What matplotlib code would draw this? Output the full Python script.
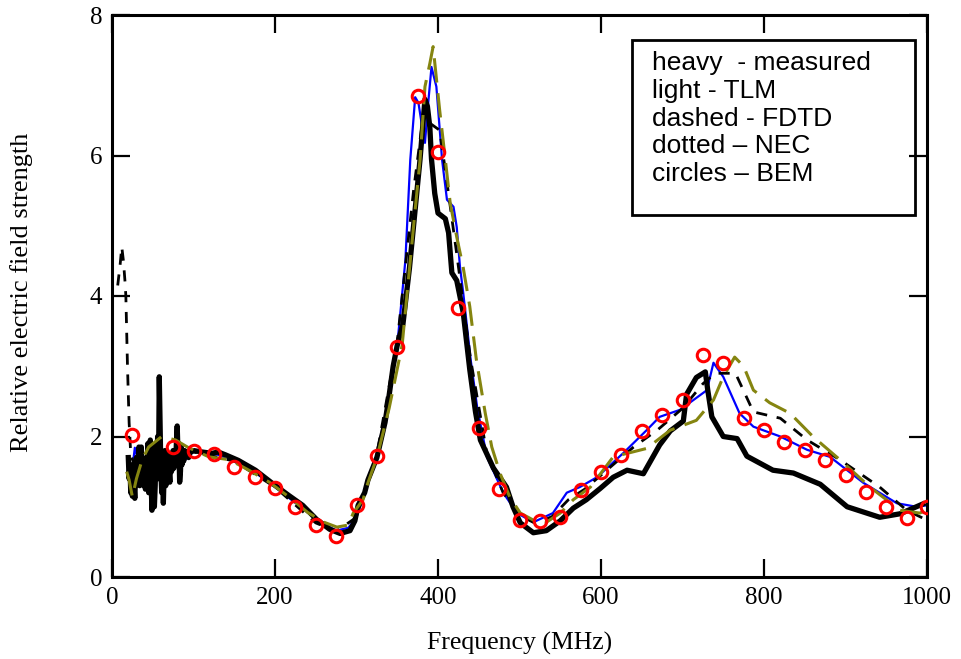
import matplotlib
matplotlib.use("Agg")
import matplotlib.pyplot as plt
from matplotlib.patches import Rectangle

# ---------------- data ----------------
meas_f = [20, 21, 22, 23, 24, 25, 26, 27, 28, 29, 30, 31, 32, 33, 34, 35, 36, 37, 38, 39,
          40, 41, 42, 43, 44, 45, 46, 47, 48, 49, 50, 51, 52, 53, 54, 55, 56, 57, 58, 59,
          60, 61, 62, 63, 64, 65, 66, 67, 68, 69, 70, 71, 72, 73, 74, 75, 76, 77, 78, 79,
          80, 81, 82, 83, 84, 85, 86, 87, 88, 89, 90, 92, 94, 96,
          100, 110, 123, 130, 139, 155, 176, 196, 217, 234, 251, 267, 280, 292, 298, 302,
          310, 314, 325, 335, 339, 345, 350, 357, 365, 370, 378, 384, 387, 390, 392, 396,
          400, 409, 413, 417, 423, 431, 439, 446, 452, 468, 484, 492, 501, 517, 533, 550,
          566, 582, 599, 615, 632, 652, 672, 685, 701, 705, 717, 728, 731, 736, 750, 767,
          779, 811, 836, 869, 902, 942, 967, 995]
meas_v = [1.7, 1.4, 1.6, 1.2, 1.5, 1.15, 1.6, 1.3, 1.12, 1.5, 1.7, 1.35, 1.6, 1.85, 1.3,
          1.5, 1.85, 1.4, 1.6, 1.3, 1.55, 1.25, 1.7, 1.4, 1.9, 1.2, 1.6, 1.95, 1.35, 0.95,
          1.4, 1.8, 1.0, 1.3, 1.9, 1.5, 2.0, 1.4, 2.85, 2.2, 1.5, 1.2, 1.7, 1.05, 1.5, 1.8,
          1.3, 1.65, 1.45, 1.75, 1.5, 1.35, 1.7, 1.5, 1.6, 1.8, 1.55, 1.75, 1.6, 1.9, 2.15,
          1.75, 1.9, 1.35, 1.5, 1.85, 1.6, 1.75, 1.65, 1.8, 1.72, 1.78, 1.7, 1.78,
          1.8, 1.78, 1.76, 1.78, 1.74, 1.66, 1.52, 1.34, 1.16, 1.02, 0.82, 0.68, 0.62, 0.66,
          0.8, 1.02, 1.2, 1.38, 1.7, 2.2, 2.5, 3.0, 3.3, 3.6, 4.4, 5.0, 5.95, 6.8, 6.7, 6.4,
          5.95, 5.46, 5.18, 5.1, 4.9, 4.33, 4.22, 3.76, 2.95, 2.35, 1.95, 1.55, 1.28, 1.0,
          0.77, 0.63, 0.66, 0.8, 0.98, 1.1, 1.26, 1.42, 1.52, 1.47, 1.88, 2.08, 2.22, 2.6,
          2.84, 2.92, 2.66, 2.28, 2.0, 1.97, 1.72, 1.52, 1.48, 1.32, 1.0, 0.85, 0.9, 1.04]

tlm_f = [20, 24, 28, 32, 36, 40, 50, 61, 72, 82, 90, 102, 115, 130, 150, 168, 180, 200, 220,
         240, 260, 275, 290, 300, 310, 325, 340, 351, 360, 366, 372, 376, 380, 384, 388, 392,
         398, 405, 411, 419, 423, 427, 431, 440, 448, 460, 480, 497, 517, 541, 558, 574, 595,
         627, 656, 672, 697, 730, 738, 750, 770, 787, 820, 853, 881, 922, 963, 987, 1000]
tlm_v = [1.6, 1.45, 1.84, 1.67, 1.6, 1.64, 1.6, 1.55, 1.57, 1.57, 1.67, 1.81, 1.77, 1.74,
         1.66, 1.55, 1.45, 1.28, 1.1, 0.92, 0.76, 0.66, 0.7, 0.85, 1.2, 1.75, 2.55, 3.42,
         4.51, 5.94, 6.83, 6.75, 6.45, 6.18, 6.75, 7.26, 6.98, 5.94, 5.37, 5.27, 4.98, 4.41,
         4.04, 3.1, 2.42, 1.71, 1.2, 0.91, 0.78, 0.91, 1.2, 1.28, 1.42, 1.76, 2.09, 2.28,
         2.38, 2.66, 3.05, 2.85, 2.33, 2.14, 2.0, 1.81, 1.71, 1.34, 1.05, 1.0, 1.02]

fdtd_f = [18, 21, 25, 30, 37, 45, 61, 78, 94, 119, 144, 168, 193, 217, 240, 260, 276, 290,
          296, 308, 314, 325, 340, 356, 368, 378, 384, 390, 394, 402, 409, 415, 423, 431,
          439, 447, 458, 466, 476, 488, 501, 517, 533, 550, 566, 587, 615, 656, 685, 717,
          738, 750, 764, 775, 787, 807, 832, 860, 893, 930, 967, 991, 1000]
fdtd_v = [1.5, 1.38, 1.14, 1.4, 1.67, 1.85, 2.0, 1.95, 1.84, 1.71, 1.67, 1.52, 1.35, 1.14,
          0.92, 0.78, 0.71, 0.74, 0.91, 1.1, 1.34, 1.7, 2.4, 3.3, 4.75, 5.94, 6.98, 7.31,
          7.55, 6.65, 5.94, 5.32, 4.84, 4.4, 3.85, 3.1, 2.33, 1.85, 1.48, 1.14, 0.91, 0.81,
          0.78, 0.91, 1.1, 1.28, 1.71, 1.83, 2.09, 2.23, 2.52, 2.85, 3.13, 3.0, 2.66, 2.48,
          2.33, 2.0, 1.67, 1.28, 0.95, 0.91, 0.95]

nec_f = [7, 10, 12, 14, 16, 17, 19, 21, 23, 27, 35, 50, 70, 100, 150, 200, 250, 275, 300,
         325, 350, 370, 380, 390, 402, 409, 424, 440, 460, 480, 500, 520, 540, 560, 580,
         600, 640, 670, 700, 725, 740, 765, 787, 820, 853, 893, 942, 975, 1000]
nec_v = [4.15, 4.45, 4.7, 4.5, 4.2, 4.0, 3.0, 2.2, 1.75, 1.6, 1.62, 1.62, 1.6, 1.78, 1.65,
         1.28, 0.77, 0.65, 0.85, 1.75, 3.35, 5.5, 6.4, 6.46, 6.36, 5.79, 4.51, 3.1, 1.75,
         1.2, 0.88, 0.76, 0.86, 1.1, 1.25, 1.45, 1.85, 2.1, 2.4, 2.75, 2.9, 2.9, 2.35, 2.26,
         1.95, 1.67, 1.28, 0.95, 0.81]

bem_f = [25, 75, 100, 125, 150, 175, 200, 225, 250, 275, 300, 325, 350, 375, 400, 425, 450,
         475, 500, 525, 550, 575, 600, 625, 650, 675, 700, 725, 750, 775, 800, 825, 850, 875,
         900, 925, 950, 975, 1000]
bem_v = [2.02, 1.85, 1.8, 1.75, 1.57, 1.42, 1.27, 1.0, 0.74, 0.58, 1.02, 1.72, 3.27, 6.85,
         6.05, 3.83, 2.12, 1.25, 0.81, 0.8, 0.85, 1.24, 1.49, 1.73, 2.08, 2.31, 2.52, 3.16,
         3.05, 2.26, 2.09, 1.92, 1.81, 1.67, 1.45, 1.21, 1.0, 0.84, 1.0]

x_ticks = [0, 200, 400, 600, 800, 1000]
y_ticks = [0, 2, 4, 6, 8]
legend_lines = ["heavy  - measured", "light - TLM", "dashed - FDTD", "dotted \u2013 NEC",
                "circles \u2013 BEM"]

# ---------------- figure ----------------
fig = plt.figure(figsize=(9.62, 6.59), dpi=100)
ax = fig.add_axes([112 / 962, 82 / 659, 815 / 962, 562 / 659])

ax.plot(tlm_f, tlm_v, color="#0000ff", lw=1.6, zorder=2)
ax.plot(meas_f, meas_v, color="black", lw=3.8, zorder=3, solid_joinstyle="round")
ax.plot(nec_f, nec_v, color="black", lw=2.0, ls=(0, (4, 3.5)), zorder=4)
ax.plot(fdtd_f, fdtd_v, color="#858510", lw=2.2, ls=(0, (8, 3.5)), zorder=5)
ax.plot(bem_f, bem_v, ls="none", marker="o", ms=9, mfc="none", mec="#ff0000", mew=2.2,
        zorder=6)

ax.set_xlim(0, 1000)
ax.set_ylim(0, 8)
ax.set_xticks(x_ticks)
ax.set_yticks(y_ticks)
ax.set_xticklabels([str(t) for t in x_ticks])
ax.set_yticklabels([str(t) for t in y_ticks])

serif = "Liberation Serif"
ax.tick_params(direction="in", length=13, width=1.6, top=True, right=True, pad=7,
               labelsize=18)
for lab in ax.get_xticklabels() + ax.get_yticklabels():
    lab.set_family(serif)
for sp in ax.spines.values():
    sp.set_linewidth(2.2)

ax.set_xlabel("Frequency (MHz)", family=serif, fontsize=18.5)
ax.set_ylabel("Relative electric field strength", family=serif, fontsize=19)
ax.xaxis.set_label_coords(0.50, -0.098)
ax.yaxis.set_label_coords(-0.097, 0.507)

# legend box
ax.add_patch(Rectangle((0.638, 0.644), 0.347, 0.3115, transform=ax.transAxes,
                       fill=False, lw=2.0, ec="black", zorder=7))
ax.text(0.6626, 0.936, "\n".join(legend_lines), transform=ax.transAxes, va="top",
        ha="left", family="Liberation Sans", fontsize=19, linespacing=1.2, zorder=8)

fig.savefig("out.png", dpi=100)
